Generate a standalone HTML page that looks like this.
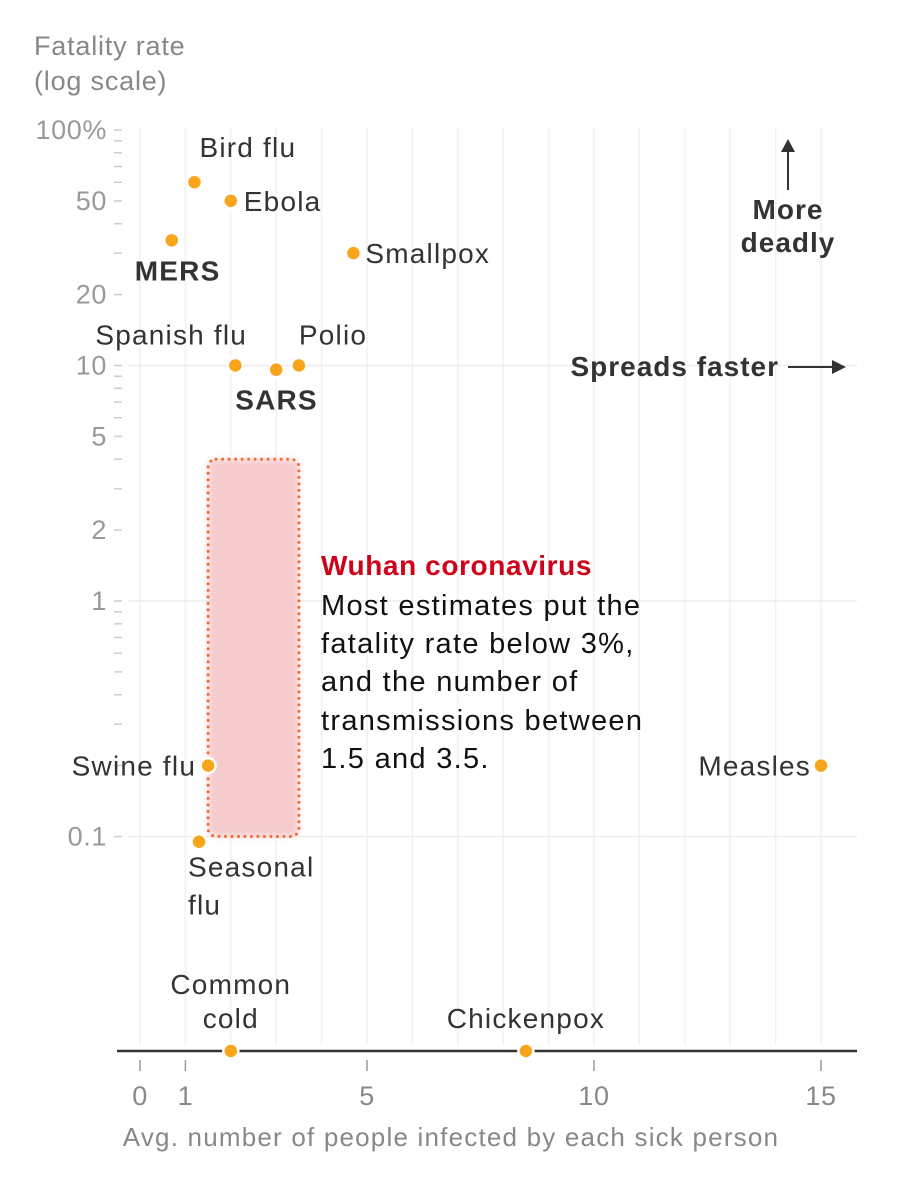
<!DOCTYPE html>
<html><head><meta charset="utf-8"><style>
html,body{margin:0;padding:0;background:#fff;}
svg{display:block;font-family:"Liberation Sans",sans-serif;}
.lb{font-size:28px;letter-spacing:1.2px;}
</style></head><body>
<svg id="chart" width="899" height="1200" viewBox="0 0 899 1200">
<defs><filter id="blur" x="-20%" y="-20%" width="140%" height="140%"><feGaussianBlur stdDeviation="3"/></filter></defs>
<g id="grid"></g>
<g id="yaxis"></g>
<g id="band"></g>
<g id="xaxis"></g>
<g id="pts"></g>
<text x="34" y="55" font-size="27" letter-spacing="0.8" fill="#888">Fatality rate</text>
<text x="34" y="90" font-size="27" letter-spacing="0.8" fill="#888">(log scale)</text>
<text x="451" y="1146" font-size="26" letter-spacing="1.2" fill="#888" text-anchor="middle">Avg. number of people infected by each sick person</text>
<g>
<line x1="788" y1="190" x2="788" y2="146" stroke="#333" stroke-width="2"/>
<path d="M781,152 L788,139 L795,152 Z" fill="#333"/>
<text x="788" y="219" font-size="28" letter-spacing="1" font-weight="bold" fill="#333" text-anchor="middle">More</text>
<text x="788" y="252" font-size="28" letter-spacing="1" font-weight="bold" fill="#333" text-anchor="middle">deadly</text>
</g>
<g>
<text x="779" y="376" font-size="28" letter-spacing="1" font-weight="bold" fill="#333" text-anchor="end">Spreads faster</text>
<line x1="788" y1="367" x2="838" y2="367" stroke="#333" stroke-width="2"/>
<path d="M832,360 L846,367 L832,374 Z" fill="#333"/>
</g>
<g font-size="29" letter-spacing="1.3" fill="#111">
<text x="321" y="575" fill="#d0021b" font-weight="bold" font-size="28" letter-spacing="0.6">Wuhan coronavirus</text>
<text x="321" y="615">Most estimates put the</text>
<text x="321" y="653">fatality rate below 3%,</text>
<text x="321" y="691">and the number of</text>
<text x="321" y="730">transmissions between</text>
<text x="321" y="768">1.5 and 3.5.</text>
</g>
</svg>
<script>
const names=["Bird flu","Ebola","MERS","Smallpox","Spanish flu","SARS","Polio","Swine flu","Seasonal flu","Measles"];
const rValues=[1.2,2.0,0.7,4.7,2.1,3.0,3.5,1.5,1.3,15];
const fatality=[60,50,34,30,10,9.6,10,0.2,0.095,0.2];
const zeroNames=["Common cold","Chickenpox"];
const zeroR=[2.0,8.5];
const xTicks=[0,1,5,10,15];
const yTicks=[100,50,20,10,5,2,1,0.1];
const yTickLabels=["100%","50","20","10","5","2","1","0.1"];
const bandR=[1.5,3.5];
const bandF=[0.1,4];

const NS="http://www.w3.org/2000/svg";
function X(v){return 140+v*45.4;}
function Y(v){return 601-Math.log10(v)*235.5;}
function mk(p,tag,attrs,txt){const e=document.createElementNS(NS,tag);for(const k in attrs)e.setAttribute(k,attrs[k]);if(txt!=null)e.textContent=txt;p.appendChild(e);return e;}
const grid=document.getElementById('grid'),ya=document.getElementById('yaxis'),xa=document.getElementById('xaxis'),pts=document.getElementById('pts'),band=document.getElementById('band');
for(let i=0;i<=15;i++){const l=mk(grid,'line',{x1:X(i),x2:X(i),y1:128,y2:1045,stroke:'#f1f1f1','stroke-width':1.5});

}
[10,1,0.1].forEach(v=>{const l=mk(grid,'line',{x1:128,x2:857,y1:Y(v),y2:Y(v),stroke:'#ededed','stroke-width':1.5});

});
for(let d=-1;d<2;d++)for(let m=1;m<10;m++){const v=m*Math.pow(10,d);const l=mk(ya,'line',{x1:114,x2:122,y1:Y(v),y2:Y(v),stroke:'#ccc','stroke-width':1.5});

}
mk(ya,'line',{x1:114,x2:122,y1:Y(100),y2:Y(100),stroke:'#ccc','stroke-width':1.5});
yTicks.forEach((v,i)=>{const t=mk(ya,'text',{x:107,y:Y(v)+9,'font-size':27,'letter-spacing':0.6,fill:'#999','text-anchor':'end'},yTickLabels[i]);

});
const bx=X(bandR[0]),bw=X(bandR[1])-bx,by=Y(bandF[1]),bh=Y(bandF[0])-by;
const bf=mk(band,'rect',{x:bx,y:by,width:bw,height:bh,rx:8,fill:'#f6c6c9',opacity:0.9,filter:'url(#blur)'});


const bo=mk(band,'rect',{x:bx,y:by,width:bw,height:bh,rx:8,fill:'none',stroke:'#f26a2e','stroke-width':3,'stroke-dasharray':'0 6.5','stroke-linecap':'round'});


const bl=mk(xa,'line',{x1:117,x2:857,y1:1051,y2:1051,stroke:'#333','stroke-width':2.5});


xTicks.forEach(v=>{const l=mk(xa,'line',{x1:X(v),x2:X(v),y1:1060,y2:1071,stroke:'#999','stroke-width':1.5});


const t=mk(xa,'text',{x:X(v),y:1105,'font-size':27,'letter-spacing':0.6,fill:'#888','text-anchor':'middle'},String(v));

});
function dot(cx,cy,name){const c=mk(pts,'circle',{cx:cx,cy:cy,r:7.5,fill:'#f9a51b',stroke:'#fff','stroke-width':2.5});

}
function lab(x,y,s,anchor,bold,name){const t=mk(pts,'text',{x:x,y:y,'class':'lb',fill:'#333','text-anchor':anchor,'font-weight':bold?'bold':'normal'},s);

}
const labelPos={ "Bird flu":[0,-25,'start',false,5],"Ebola":[13,10,'start',false,0],"MERS":[-37,40,'start',true,0],
"Smallpox":[12,10,'start',false,0],"Spanish flu":[-140,-21,'start',false,0],"SARS":[-41,40,'start',true,0],"Polio":[0,-21,'start',false,0],
"Swine flu":[-12,10,'end',false,0],"Seasonal flu":[-11,35,'start',false,0],"Measles":[-10,10,'end',false,0]};
names.forEach((n,i)=>{const cx=X(rValues[i]),cy=Y(fatality[i]);dot(cx,cy,'point-'+n.toLowerCase().replace(/ /g,'-'));
const p=labelPos[n];const nm='label-'+n.toLowerCase().replace(/ /g,'-');
if(n==="Seasonal flu"){lab(cx+p[0],cy+p[1],'Seasonal','start',false,nm);lab(cx+p[0],cy+p[1]+38,'flu','start',false,nm+'-2');}
else lab(cx+p[0]+p[4],cy+p[1],n,p[2],p[3],nm);});
zeroNames.forEach((n,i)=>{const cx=X(zeroR[i]);dot(cx,1051,'point-'+n.toLowerCase().replace(/ /g,'-'));
const nm='label-'+n.toLowerCase().replace(/ /g,'-');
if(n==="Common cold"){lab(cx,994,'Common','middle',false,nm);lab(cx,1028,'cold','middle',false,nm+'-2');}
else lab(cx,1028,n,'middle',false,nm);});
</script>
</body></html>
